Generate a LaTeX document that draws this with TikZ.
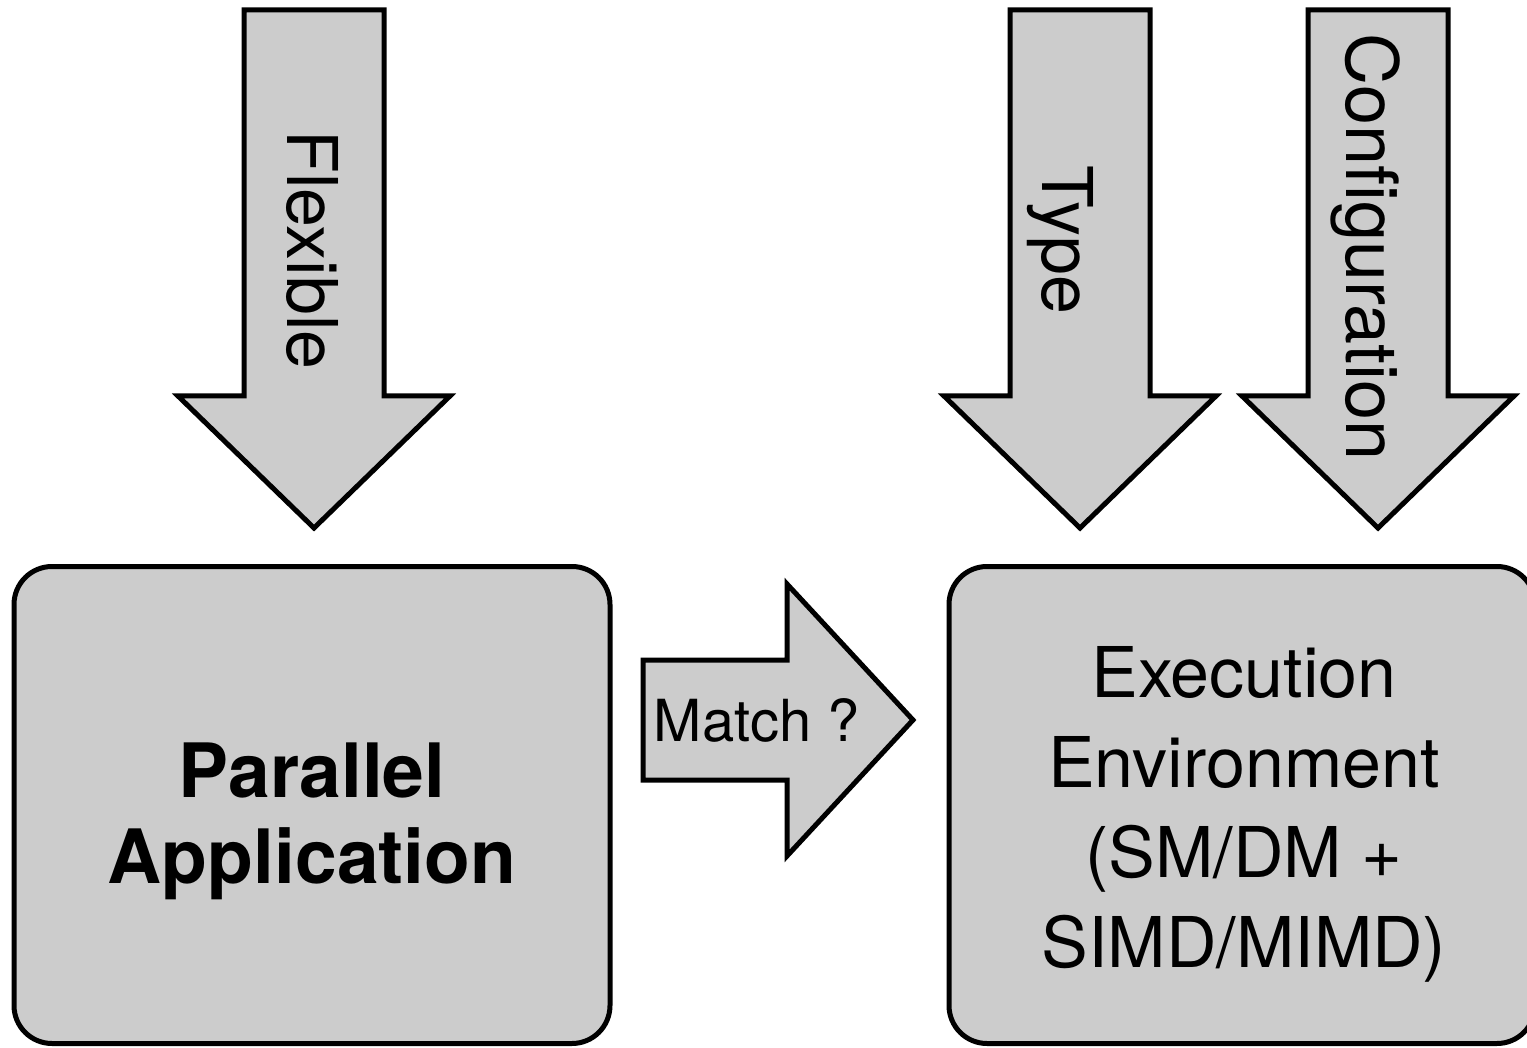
\documentclass[tikz,border=0pt]{standalone}
\usepackage{fontspec}
\setmainfont{TeX Gyre Heros}

\definecolor{boxgrau}{gray}{0.8}

% Blockpfeil nach unten: #1 = x-Mitte, #2 = Name der Spitze
\newcommand\PfeilRunter[2]{%
  \draw[blockpfeil] (#1-70,10) -- (#1+70,10) -- (#1+70,396) -- (#1+136,396)
    -- (#1,528) coordinate (#2) -- (#1-136,396) -- (#1-70,396) -- cycle;}

\begin{document}
\begin{tikzpicture}[x=1pt, y=-1pt,
  blockpfeil/.style={draw, line width=5pt, fill=boxgrau},
  kasten/.style={draw, line width=5pt, fill=boxgrau, rounded corners=38pt,
    minimum height=477pt},
  gross/.style={font=\fontsize{70}{90}\selectfont}]

\useasboundingbox (0,0) rectangle (1527,1048);

% x-Mitten der Pfeile
\def \flexX {314}
\def \typX {1080}
\def \konfX {1378}

% Pfeile von oben
\PfeilRunter{\flexX}{flexTip}
\PfeilRunter{\typX}{typTip}
\PfeilRunter{\konfX}{konfTip}

% Beschriftung der Pfeile (gedreht)
\node[gross, rotate=-90, anchor=base] (flex) at (287,250) {Flexible};
\node[gross, rotate=-90, anchor=base] (typ) at (1042,240) {Type};
\node[font=\fontsize{72}{90}\selectfont, rotate=-90, anchor=base] (konf) at (1346,247) {Configuration};

% Kaesten
\node[kasten, minimum width=596pt] (app) at (312,805) {};
\node[kasten, minimum width=586pt] (env) at (1242,805) {};
\node[align=center, font=\bfseries\fontsize{75}{86}\selectfont]
  (appText) at (312,821) {Parallel\\Application};
\node[align=center, gross] (envText) at (1244,814)
  {Execution\\Environment\\(SM/DM +\\SIMD/MIMD)};

% Pfeil dazwischen
\draw[blockpfeil] (643,660) -- (787,660) -- (787,584) -- (913,720) coordinate (matchTip)
  -- (787,856) -- (787,780) -- (643,780) -- cycle;
\node[font=\fontsize{58}{70}\selectfont] (match) at (757,720) {Match ?};

\end{tikzpicture}
\end{document}
